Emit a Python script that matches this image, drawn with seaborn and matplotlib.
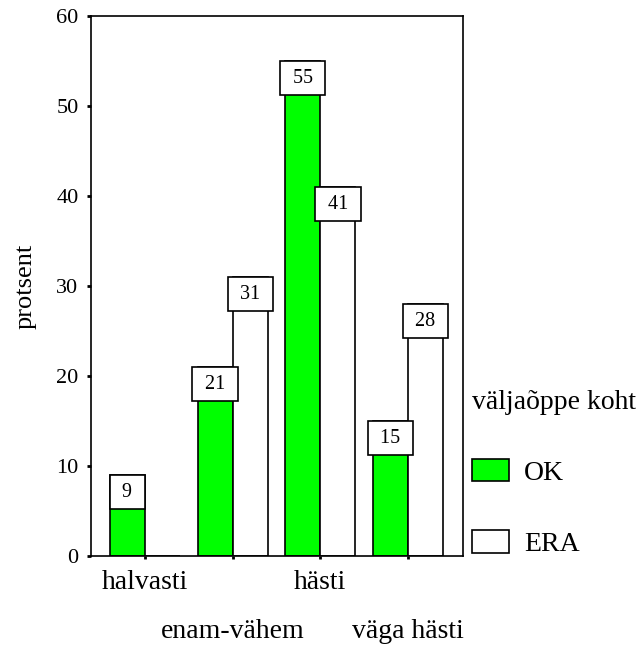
import pandas as pd
import seaborn as sns
import matplotlib.pyplot as plt

# andmed
categories = ["halvasti", "enam-vähem", "hästi", "väga hästi"]
groups = ["OK", "ERA"]
ok_values = [9, 21, 55, 15]
era_values = [0, 31, 41, 28]
y_ticks = [0, 10, 20, 30, 40, 50, 60]

sns.set_theme(style="ticks")
plt.rcParams["font.family"] = ["Liberation Serif", "DejaVu Serif"]
plt.rcParams["text.color"] = "black"
plt.rcParams["axes.labelcolor"] = "black"
plt.rcParams["xtick.color"] = "black"
plt.rcParams["ytick.color"] = "black"

df = pd.DataFrame({
    "hinnang": categories * 2,
    "protsent": ok_values + era_values,
    "koht": ["OK"] * len(categories) + ["ERA"] * len(categories),
})

fig = plt.figure(figsize=(6.37, 6.46), dpi=100)
ax = fig.add_axes([0.1429, 0.1393, 0.5839, 0.8359])

sns.barplot(data=df, x="hinnang", y="protsent", hue="koht",
            order=categories, hue_order=groups,
            palette={"OK": "#00ff00", "ERA": "white"},
            edgecolor="black", linewidth=1.2, saturation=1, ax=ax)

ax.set_ylim(0, 60)
ax.set_xlim(-0.616, 3.627)
ax.set_yticks(y_ticks)
ax.tick_params(axis="y", labelsize=16, direction="out", length=3, width=2, pad=6)
ax.tick_params(axis="x", labelsize=20, direction="out", length=2, width=2, pad=8)
ax.set_xlabel("")
ax.set_ylabel("protsent", fontsize=19, labelpad=14)
for sp in ax.spines.values():
    sp.set_visible(True)
    sp.set_color("black")
    sp.set_linewidth(1.2)

# astmelised kategooriasildid
for tick in ax.xaxis.get_major_ticks()[1::2]:
    tick.set_pad(43)

# väärtussildid kastis
pad = 0.38
fs = 14.5
for cont in ax.containers:
    for bar in cont:
        h = bar.get_height()
        if h <= 0:
            continue
        ax.annotate(f" {h:.0f} ", xy=(bar.get_x() + bar.get_width() / 2, h),
                    xytext=(0, -pad * fs), textcoords="offset points",
                    ha="center", va="top", fontsize=fs,
                    bbox=dict(boxstyle=f"square,pad={pad}", fc="white",
                              ec="black", lw=1.2))

handles, labels = ax.get_legend_handles_labels()
ax.get_legend().remove()
fig.legend(handles, labels, title="väljaõppe koht", loc="upper left",
           bbox_to_anchor=(0.741, 0.397), frameon=False, fontsize=20,
           title_fontsize=20, alignment="left", borderpad=0,
           borderaxespad=0, handlelength=1.33, handleheight=0.86,
           handletextpad=0.55, labelspacing=1.6)

plt.savefig("out.png", dpi=100)
